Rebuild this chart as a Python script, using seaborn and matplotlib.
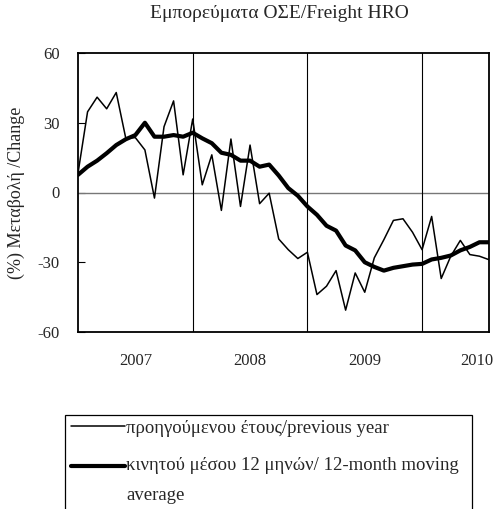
import numpy as np
import pandas as pd
import matplotlib
matplotlib.use("Agg")
import matplotlib.pyplot as plt
import seaborn as sns
from matplotlib.patches import Rectangle
from matplotlib.legend_handler import HandlerLine2D

# monthly index, Jan 2007 .. Aug 2010
months = pd.date_range("2007-01-01", "2010-08-01", freq="MS")
prev_year = [8.3, 34.7, 41.0, 36.0, 43.0, 23.3, 23.6, 18.3, -2.4, 28.3, 39.4, 7.6,
             31.6, 3.3, 16.2, -7.7, 23.0, -6.0, 20.4, -4.8, -0.3, -20.0, -24.6, -28.4,
             -25.7, -43.9, -40.3, -33.6, -50.6, -34.6, -42.9, -28.1, -20.3, -12.0, -11.3, -17.1,
             -24.6, -10.3, -37.0, -27.4, -20.6, -26.7, -27.4, -28.9]
moving_avg = [7.6, 11.1, 13.7, 16.9, 20.4, 22.9, 24.7, 30.0, 24.0, 24.0, 24.7, 24.0,
              25.7, 23.3, 21.2, 17.1, 16.2, 13.7, 13.7, 11.1, 12.0, 7.3, 1.9, -1.4,
              -6.0, -9.6, -14.3, -16.4, -22.8, -24.9, -30.0, -32.0, -33.6, -32.4, -31.7, -31.0,
              -30.7, -28.8, -28.1, -27.1, -24.9, -23.4, -21.4, -21.4]
years = ["2007", "2008", "2009", "2010"]
year_pos = [6, 18, 30, 41.7]
y_ticks = [60, 30, 0, -30, -60]

df = pd.DataFrame({"t": np.arange(len(months)), "prev": prev_year, "ma": moving_avg})


class RaisedLine(HandlerLine2D):
    # put the legend line next to the first line of a two-line label
    def __init__(self, dy, **kw):
        super().__init__(**kw)
        self.dy = dy

    def create_artists(self, legend, orig_handle, xdescent, ydescent, width, height, fontsize, trans):
        return super().create_artists(legend, orig_handle, xdescent, ydescent, width,
                                      height + 2 * self.dy, fontsize, trans)


sns.set_theme(style="white")
plt.rcParams["font.family"] = ["Liberation Serif", "DejaVu Serif"]

fig = plt.figure(figsize=(4.96, 5.09), dpi=100)
ax = fig.add_axes([78 / 496, 1 - 332 / 509, 411 / 496, 279 / 509])

# separators: zero line and year boundaries
ax.axhline(0, color="#777777", lw=1.0, zorder=1)
for x in [12, 24, 36]:
    ax.axvline(x, color="black", lw=0.8, zorder=1)

sns.lineplot(data=df, x="t", y="prev", ax=ax, color="black", lw=1.1,
             label="προηγούμενου έτους/previous year", legend=False, zorder=3)
sns.lineplot(data=df, x="t", y="ma", ax=ax, color="black", lw=3.0,
             label="κινητού μέσου 12 μηνών/ 12-month moving\naverage", legend=False, zorder=4)

ax.set_xlim(0, len(months) - 1)
ax.set_ylim(-60, 60)
ax.set_yticks(y_ticks)
ax.set_yticklabels([str(v) for v in y_ticks], fontsize=12)
ax.set_xticks(year_pos)
ax.set_xticklabels(years, fontsize=12)
ax.tick_params(axis="x", length=0, pad=15)
ax.tick_params(axis="y", direction="in", length=5, width=0.8, color="black", pad=13, left=True)
ax.set_xlabel("")
ax.set_ylabel("(%) Μεταβολή /Change", fontsize=13)
ax.yaxis.set_label_coords(-0.128, 0.5)
for s in ax.spines.values():
    s.set_color("black")
    s.set_linewidth(1.3)

fig.text(279 / 496, 1 - 14 / 509, "Εμπορεύματα ΟΣΕ/Freight HRO", ha="center", va="center", fontsize=14)

handles, labels = ax.get_legend_handles_labels()
leg = fig.legend(handles, labels, loc="upper left", bbox_to_anchor=(66 / 496, 1 - 415 / 509),
                 frameon=False, fontsize=13.5,
                 handlelength=2.9, handletextpad=0.05, labelspacing=1.1, borderpad=0.25,
                 borderaxespad=0, handler_map={handles[1]: RaisedLine(dy=11)})
for t in leg.get_texts():
    t.set_linespacing(2.0)

# legend box, open at the bottom edge of the figure
fig.patches.append(Rectangle((65 / 496, -0.02), (472 - 65) / 496, 1 - 415 / 509 + 0.02,
                             transform=fig.transFigure, fill=False, edgecolor="black", lw=0.9))

fig.savefig("out.png", dpi=100)
